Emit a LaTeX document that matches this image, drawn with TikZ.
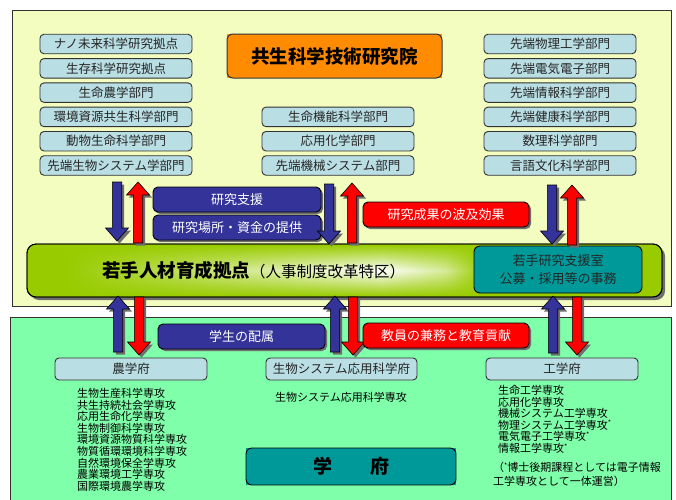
\documentclass[tikz,border=0pt]{standalone}
\usepackage{fontspec}
\setmainfont{Noto Sans CJK JP}
\usetikzlibrary{shadows,fadings}
\definecolor{panelyellow}{RGB}{243,253,192}
\definecolor{panelgreen}{RGB}{128,255,170}
\definecolor{boxblue}{RGB}{185,222,228}
\definecolor{navy}{RGB}{51,51,153}
\definecolor{bandgreen}{RGB}{153,204,0}
\definecolor{tealbox}{RGB}{0,153,153}
\definecolor{orangebox}{RGB}{255,140,0}
\definecolor{edge}{RGB}{50,50,50}
\definecolor{shadowgray}{RGB}{110,110,110}
\definecolor{redbox}{RGB}{255,0,0}
\pgfdeclarehorizontalshading{bandshade}{100bp}{color(0bp)=(bandgreen); color(28bp)=(bandgreen); color(40bp)=(bandgreen!50!white); color(53bp)=(white); color(58bp)=(bandgreen!40!white); color(61bp)=(bandgreen); color(100bp)=(bandgreen)}
\tikzfading[name=vfade, top color=transparent!100, bottom color=transparent!100, middle color=transparent!0]
\newcommand{\blkarrow}[4]{%
  \pgfmathsetmacro{\hb}{(#4>#3) ? #4-13 : #4+13}%
  \draw[blockarr, fill=#1] (#2-4.7,#3) -- (#2+4.7,#3) -- (#2+4.7,\hb) -- (#2+11.5,\hb) -- (#2,#4) -- (#2-11.5,\hb) -- (#2-4.7,\hb) -- cycle;}
\newcommand{\astx}{\raisebox{3.5pt}{\fontsize{7}{7}\selectfont *}}
\begin{document}
\begin{tikzpicture}[x=1pt, y=-1pt,
  panelline/.style={draw=edge, line width=0.9pt},
  lbox/.style={draw=edge, line width=0.9pt, rounded corners=4pt, fill=boxblue, minimum width=152pt, minimum height=19.5pt, inner sep=0pt, font=\fontsize{12.5}{14}\selectfont, text=black!85},
  bbox/.style={lbox, minimum height=22pt},
  labbox/.style={draw=black, line width=0.9pt, rounded corners=5pt, minimum width=167pt, minimum height=25pt, inner sep=0pt, text=white, font=\fontsize{13}{15}\selectfont, drop shadow={shadow xshift=2pt, shadow yshift=-2pt, fill=shadowgray, opacity=1}},
  blockarr/.style={draw=black, line width=0.6pt, drop shadow={shadow xshift=2.5pt, shadow yshift=-2.5pt, fill=shadowgray, opacity=1}},
  listtxt/.style={anchor=north west, inner sep=0pt, align=left, font=\fontsize{11}{11.6}\selectfont, text=black}
]
\useasboundingbox (0,0) rectangle (676,499);
% panels
\draw[panelline, fill=panelyellow] (12,10) rectangle (671,306);
\draw[panelline, fill=panelgreen] (10,317) rectangle (671,520);

% title
\fill[orangebox] (227,34) rectangle (442,78);
\node[draw=edge, line width=1pt, rounded corners=6pt, minimum width=215pt, minimum height=44pt, inner sep=0pt, font=\fontsize{18.5}{20}\bfseries] (title) at (334.5,56) {共生科学技術研究院};

% left column
\node[lbox] (l1) at (116,44.0) {ナノ未来科学研究拠点};
\node[lbox] (l2) at (116,68.3) {生存科学研究拠点};
\node[lbox] (l3) at (116,92.6) {生命農学部門};
\node[lbox] (l4) at (116,116.9) {環境資源共生科学部門};
\node[lbox] (l5) at (116,141.2) {動物生命科学部門};
\node[lbox] (l6) at (116,165.5) {先端生物システム学部門};
% middle column
\node[lbox] (m4) at (338,116.9) {生命機能科学部門};
\node[lbox] (m5) at (338,141.2) {応用化学部門};
\node[lbox] (m6) at (338,165.5) {先端機械システム部門};
% right column
\node[lbox] (r1) at (560,44.0) {先端物理工学部門};
\node[lbox] (r2) at (560,68.3) {先端電気電子部門};
\node[lbox] (r3) at (560,92.6) {先端情報科学部門};
\node[lbox] (r4) at (560,116.9) {先端健康科学部門};
\node[lbox] (r5) at (560,141.2) {数理科学部門};
\node[lbox] (r6) at (560,165.5) {言語文化科学部門};

% label boxes (upper)
\node[labbox, fill=navy, minimum width=168pt] (shien) at (237,199.5) {研究支援};
\node[labbox, fill=navy, minimum width=168pt] (basho) at (237,227.5) {研究場所・資金の提供};
\node[labbox, fill=redbox, minimum width=166pt] (seika) at (446,214.5) {研究成果の波及効果};

% band
\path[fill=bandgreen, rounded corners=9pt, draw=black, line width=0.9pt, drop shadow={shadow xshift=3pt, shadow yshift=-3pt, fill=shadowgray, opacity=1}] (27,244) rectangle (662,297);
\shade[shading=bandshade, path fading=vfade, rounded corners=9pt] (28,245) rectangle (661,296);
\draw[black, line width=0.9pt, rounded corners=9pt] (27,244) rectangle (662,297);
\node[anchor=west, inner sep=0pt] (band) at (102,270) {{\fontsize{18.5}{20}\bfseries 若手人材育成拠点}{\fontsize{15.5}{17}\selectfont（人事制度改革特区）}};
\node[draw=black, line width=0.9pt, rounded corners=6pt, fill=tealbox, minimum width=168pt, minimum height=47pt, inner sep=0pt, align=center, font=\fontsize{13}{18}\selectfont, text=black!85] (office) at (558,269.5) {若手研究支援室\\公募・採用等の事務};

% upper arrows
\blkarrow{navy}{117}{182}{241}
\blkarrow{redbox}{138}{243}{182}
\blkarrow{navy}{329}{184}{244}
\blkarrow{redbox}{352}{243}{183}
\blkarrow{navy}{552}{185}{244}
\blkarrow{redbox}{572}{245}{185}
% lower arrows
\blkarrow{navy}{118}{352}{296}
\blkarrow{redbox}{139}{297}{355}
\blkarrow{navy}{335}{352}{296}
\blkarrow{redbox}{353}{297}{355}
\blkarrow{navy}{553}{353}{296}
\blkarrow{redbox}{577}{297}{355}

% label boxes (lower)
\node[labbox, fill=navy, minimum width=167pt] (haizoku) at (241.5,336.5) {学生の配属};
\node[labbox, fill=redbox, minimum width=166pt] (kenmu) at (446,335.5) {教員の兼務と教育貢献};

% schools
\node[bbox] (nou) at (131,369) {農学府};
\node[bbox, minimum width=151pt] (bio) at (341.5,369) {生物システム応用科学府};
\node[bbox] (kou) at (562,369) {工学府};

\node[listtxt] (noulist) at (77,388) {生物生産科学専攻\\共生持続社会学専攻\\応用生命化学専攻\\生物制御科学専攻\\環境資源物質科学専攻\\物質循環環境科学専攻\\自然環境保全学専攻\\農業環境工学専攻\\国際環境農学専攻};
\node[listtxt] (biolist) at (275,392) {生物システム応用科学専攻};
\node[listtxt] (koulist) at (498,385) {生命工学専攻\\応用化学専攻\\機械システム工学専攻\\物理システム工学専攻\astx\\電気電子工学専攻\astx\\情報工学専攻\astx};
\node[listtxt, font=\fontsize{11}{14}\selectfont] (note) at (493,462) {（\astx 博士後期課程としては電子情報\\工学専攻として一体運営）};

% gakufu
\fill[tealbox] (246,448) rectangle (456,485);
\node[draw=black, line width=0.9pt, rounded corners=6pt, minimum width=210pt, minimum height=37pt, inner sep=0pt, font=\fontsize{19}{21}\bfseries] (gakufu) at (351,466.5) {学　　府};
\end{tikzpicture}
\end{document}
